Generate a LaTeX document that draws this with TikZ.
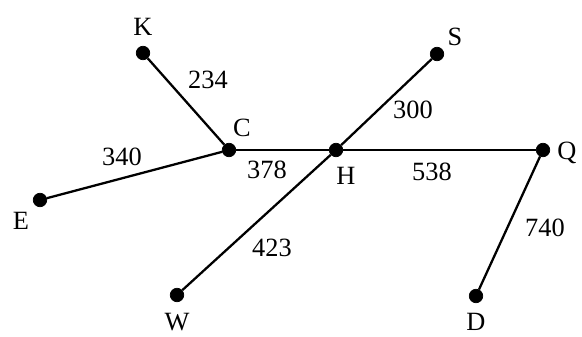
\documentclass[tikz,border=0pt]{standalone}
\usepackage{fontspec}
\setmainfont{Liberation Serif}

\begin{document}
\begin{tikzpicture}[font=\fontsize{15}{17}\selectfont]
    \useasboundingbox (0,0) rectangle (11.64,6.72);

    % Define positions of the nodes
    \node[circle, draw, fill=black, inner sep=0pt, minimum size=0.27cm] (K) at (2.86, 5.66) {};
    \node[circle, draw, fill=black, inner sep=0pt, minimum size=0.27cm] (C) at (4.58, 3.72) {};
    \node[circle, draw, fill=black, inner sep=0pt, minimum size=0.27cm] (H) at (6.72, 3.72) {};
    \node[circle, draw, fill=black, inner sep=0pt, minimum size=0.27cm] (S) at (8.74, 5.64) {};
    \node[circle, draw, fill=black, inner sep=0pt, minimum size=0.27cm] (Q) at (10.86, 3.72) {};
    \node[circle, draw, fill=black, inner sep=0pt, minimum size=0.27cm] (E) at (0.80, 2.72) {};
    \node[circle, draw, fill=black, inner sep=0pt, minimum size=0.27cm] (W) at (3.54, 0.82) {};
    \node[circle, draw, fill=black, inner sep=0pt, minimum size=0.27cm] (D) at (9.52, 0.80) {};

    % Draw edges between the nodes
    \draw[line width=1.3pt] (K) -- (C);
    \draw[line width=1.3pt] (E) -- (C);
    \draw[line width=1.3pt] (C) -- (H);
    \draw[line width=1.3pt] (W) -- (H);
    \draw[line width=1.3pt] (H) -- (S);
    \draw[line width=1.3pt] (H) -- (Q);
    \draw[line width=1.3pt] (Q) -- (D);

    % Vertex labels
    \node (Klab) at (2.86, 6.18) {K};
    \node (Clab) at (4.84, 4.16) {C};
    \node (Hlab) at (6.92, 3.20) {H};
    \node (Slab) at (9.10, 5.98) {S};
    \node (Qlab) at (11.34, 3.66) {Q};
    \node (Elab) at (0.42, 2.30) {E};
    \node (Wlab) at (3.54, 0.28) {W};
    \node (Dlab) at (9.52, 0.28) {D};

    % Edge weights
    \node (KC) at (4.16, 5.12) {234};
    \node (EC) at (2.44, 3.58) {340};
    \node (CH) at (5.34, 3.32) {378};
    \node (HS) at (8.26, 4.52) {300};
    \node (HQ) at (8.64, 3.28) {538};
    \node (WH) at (5.44, 1.76) {423};
    \node (QD) at (10.90, 2.16) {740};
\end{tikzpicture}
\end{document}
